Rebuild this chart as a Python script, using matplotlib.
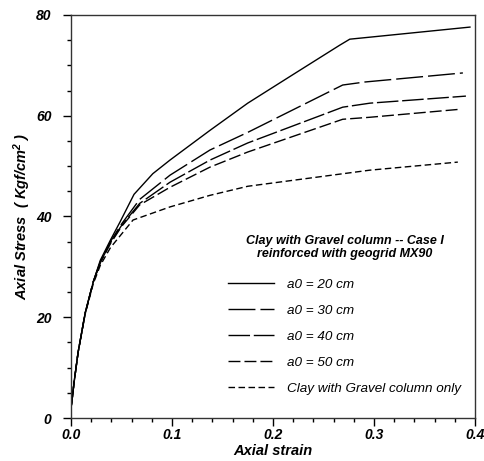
import matplotlib
matplotlib.use("Agg")
import matplotlib.pyplot as plt
from matplotlib.ticker import MultipleLocator, FixedLocator

plt.rcParams['font.family'] = ['Liberation Sans', 'DejaVu Sans']
plt.rcParams['mathtext.default'] = 'regular'

# ---- data ----
strain_20 = [0, 0.001, 0.003, 0.007, 0.014, 0.022, 0.029, 0.039, 0.0485, 0.0624, 0.081, 0.098, 0.1376, 0.175, 0.22, 0.266, 0.276, 0.296, 0.395]
stress_20 = [2.0, 3.5, 7.0, 13.0, 20.8, 27.0, 31.3, 35.3, 38.9, 44.4, 48.5, 51.2, 57.1, 62.5, 68.2, 74.0, 75.2, 75.6, 77.6]

strain_30 = [0, 0.001, 0.003, 0.007, 0.014, 0.022, 0.029, 0.039, 0.05, 0.068, 0.098, 0.1376, 0.175, 0.269, 0.291, 0.388]
stress_30 = [2.0, 3.5, 7.0, 13.0, 20.8, 27.0, 31.0, 35.0, 38.5, 43.4, 48.2, 53.2, 56.7, 66.1, 66.7, 68.5]

strain_40 = [0, 0.001, 0.003, 0.007, 0.014, 0.022, 0.029, 0.039, 0.05, 0.068, 0.098, 0.1376, 0.175, 0.269, 0.296, 0.391]
stress_40 = [2.0, 3.5, 7.0, 13.0, 20.8, 27.0, 30.9, 34.8, 38.2, 42.6, 46.8, 51.2, 54.6, 61.7, 62.5, 63.9]

strain_50 = [0, 0.001, 0.003, 0.007, 0.014, 0.022, 0.029, 0.039, 0.05, 0.068, 0.098, 0.1376, 0.175, 0.269, 0.296, 0.386]
stress_50 = [2.0, 3.5, 7.0, 13.0, 20.8, 27.0, 30.8, 34.6, 38.0, 42.3, 45.8, 49.8, 52.8, 59.3, 59.7, 61.3]

strain_clay = [0, 0.001, 0.003, 0.007, 0.014, 0.022, 0.029, 0.039, 0.05, 0.0614, 0.098, 0.1376, 0.175, 0.296, 0.383]
stress_clay = [2.0, 3.5, 7.0, 13.0, 20.6, 26.6, 30.3, 33.8, 36.5, 39.3, 41.9, 44.2, 46.0, 49.2, 50.8]

labels = ["a0 = 20 cm", "a0 = 30 cm", "a0 = 40 cm", "a0 = 50 cm", "Clay with Gravel column only"]
legend_title = "Clay with Gravel column -- Case I\nreinforced with geogrid MX90"
x_ticks = [0.0, 0.1, 0.2, 0.3, 0.4]
x_ticklabels = ["0.0", "0.1", "0.2", "0.3", "0.4"]
y_ticks = [0, 20, 40, 60, 80]
y_ticklabels = ["0", "20", "40", "60", "80"]

fig = plt.figure(figsize=(4.85, 4.61), dpi=100)
ax = fig.add_axes([71/485, 1-418/461, (475-71)/485, (418-15)/461])

series = [(strain_20, stress_20), (strain_30, stress_30), (strain_40, stress_40),
          (strain_50, stress_50), (strain_clay, stress_clay)]
dashes = [None, (19.4, 3.6), (15.5, 2.7), (8.6, 2.9), (4.7, 2.5)]
for (xs, ys), lab, d in zip(series, labels, dashes):
    if d is None:
        ax.plot(xs, ys, color='black', lw=1.0, label=lab)
    else:
        ax.plot(xs, ys, color='black', lw=1.0, label=lab, dashes=d)

ax.set_xlim(0, 0.4)
ax.set_ylim(0, 80)
ax.xaxis.set_major_locator(FixedLocator(x_ticks))
ax.set_xticklabels(x_ticklabels)
ax.yaxis.set_major_locator(FixedLocator(y_ticks))
ax.set_yticklabels(y_ticklabels)
ax.xaxis.set_minor_locator(MultipleLocator(0.02))
ax.yaxis.set_minor_locator(MultipleLocator(5))
ax.tick_params(which='major', direction='out', length=6, width=1.0, color='black')
ax.tick_params(which='minor', direction='out', length=3, width=1.0, color='black')
ax.tick_params(axis='y', which='major', pad=8)
ax.tick_params(axis='x', which='major', pad=1.5)
for lab in ax.get_xticklabels() + ax.get_yticklabels():
    lab.set_fontsize(10)
    lab.set_fontweight('bold')
    lab.set_fontstyle('italic')
for s in ax.spines.values():
    s.set_linewidth(1.0)
    s.set_color('#333333')

ax.set_xlabel("Axial strain", fontsize=10.5, fontweight='bold', fontstyle='italic', labelpad=1)
ax.set_ylabel("Axial Stress  ( Kgf/cm$^2$ )", fontsize=10.5, fontweight='bold', fontstyle='italic', labelpad=2)

leg = ax.legend(loc='upper left', bbox_to_anchor=(0.389, 0.455), frameon=False,
                title=legend_title, handlelength=3.4, handletextpad=0.95,
                labelspacing=1.0, borderpad=0, borderaxespad=0,
                prop={'size': 9.7, 'style': 'italic'},
                title_fontproperties={'size': 9, 'weight': 'bold', 'style': 'italic'})
leg.get_title().set_multialignment('center')
leg._legend_box.sep = 13

fig.savefig("out.png", dpi=100)
